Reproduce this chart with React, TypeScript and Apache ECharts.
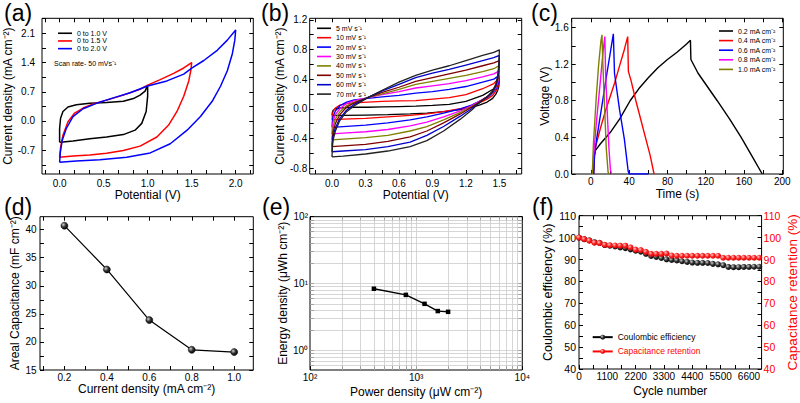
import React, { useEffect, useRef } from 'react';
import * as echarts from 'echarts';

const FONT = "'Liberation Sans', Arial, Helvetica, sans-serif";

// ---------------- (a) CV at different windows ----------------
const aNames = ['0 to 1.0 V', '0 to 1.5 V', '0 to 2.0 V'];
const aColors = ['#000000', '#ff0000', '#0000ff'];
const aLoop10 = [[0,-0.51],[0,-0.18],[0.011,0.065],[0.038,0.228],[0.095,0.334],[0.19,0.39],[0.343,0.423],[0.533,0.44],[0.724,0.472],[0.838,0.537],[0.914,0.619],[0.971,0.716],[1.0,0.86],
  [1.0,0.594],[0.983,0.228],[0.933,-0.057],[0.857,-0.22],[0.724,-0.326],[0.533,-0.383],[0.343,-0.423],[0.152,-0.48],[0.038,-0.505],[0,-0.51]];
const aLoop15 = [[0,-0.87],[0.011,-0.63],[0.038,-0.34],[0.095,-0.02],[0.171,0.19],[0.267,0.31],[0.381,0.41],[0.533,0.5],[0.724,0.62],[0.914,0.76],[1.0,0.86],[1.143,0.99],[1.295,1.14],[1.41,1.27],[1.5,1.4],
  [1.493,1.245],[1.467,0.96],[1.41,0.594],[1.333,0.228],[1.238,-0.098],[1.105,-0.383],[0.914,-0.602],[0.724,-0.708],[0.533,-0.773],[0.343,-0.814],[0.152,-0.838],[0,-0.87]];
const aLoop20 = [[0,-0.99],[0.008,-0.75],[0.03,-0.46],[0.076,-0.18],[0.152,0.106],[0.267,0.293],[0.419,0.423],[0.61,0.553],[0.8,0.675],[1.0,0.838],[1.219,0.96],[1.41,1.123],[1.505,1.27],[1.638,1.449],[1.79,1.693],[1.905,1.937],[2.0,2.18],
  [1.99,1.937],[1.962,1.612],[1.905,1.205],[1.829,0.838],[1.733,0.472],[1.6,0.106],[1.448,-0.22],[1.257,-0.545],[1.029,-0.765],[0.762,-0.871],[0.457,-0.928],[0.19,-0.96],[0,-0.99]];
const aLoops = [aLoop10, aLoop15, aLoop20];
const aXLabels = [0, 0.5, 1, 1.5, 2];
const aXTicks = [-0.1667, 0, 0.1667, 0.3333, 0.5, 0.6667, 0.8333, 1, 1.1667, 1.3333, 1.5, 1.6667, 1.8333, 2, 2.1667];
const aYLabels = [-0.7, 0, 0.7, 1.4, 2.1];
const aYTicks = [-1.05, -0.7, -0.35, 0, 0.35, 0.7, 1.05, 1.4, 1.75, 2.1, 2.45];

// ---------------- (b) CV at different scan rates ----------------
const bNames = ['5 mV s\u207B\u00B9', '10 mV s\u207B\u00B9', '20 mV s\u207B\u00B9', '30 mV s\u207B\u00B9', '40 mV s\u207B\u00B9', '50 mV s\u207B\u00B9', '60 mV s\u207B\u00B9', '70 mV s\u207B\u00B9'];
const bColors = ['#000000', '#ff0000', '#0000ff', '#ff00ff', '#808000', '#800000', '#0000cc', '#222222'];
const bLoop5 = [[0,-0.09],[0.003,-0.05],[0.01,-0.02],[0.03,0.0],[0.07,0.01],[0.13,0.015],[0.2,0.02],[0.32,0.02],[0.45,0.025],[0.6,0.03],[0.75,0.035],[0.9,0.045],[1.05,0.06],[1.2,0.1],[1.35,0.18],[1.45,0.27],[1.5,0.38],
  [1.495,0.3],[1.485,0.25],[1.47,0.2],[1.44,0.14],[1.39,0.09],[1.32,0.05],[1.25,0.02],[1.15,-0.01],[1.0,-0.04],[0.85,-0.06],[0.7,-0.07],[0.5,-0.08],[0.3,-0.085],[0.1,-0.09],[0,-0.09]];
const bLoop10 = [[0,-0.15],[0.003,-0.09],[0.01,-0.04],[0.03,0.01],[0.07,0.05],[0.13,0.07],[0.2,0.08],[0.32,0.09],[0.45,0.1],[0.6,0.105],[0.75,0.11],[0.9,0.13],[1.05,0.15],[1.2,0.19],[1.35,0.27],[1.45,0.34],[1.5,0.42],
  [1.495,0.34],[1.485,0.29],[1.47,0.24],[1.44,0.18],[1.39,0.13],[1.32,0.08],[1.25,0.04],[1.15,0.0],[1.0,-0.04],[0.85,-0.07],[0.7,-0.09],[0.5,-0.11],[0.3,-0.13],[0.1,-0.14],[0,-0.15]];
const bLoop20 = [[0,-0.25],[0.003,-0.17],[0.01,-0.1],[0.03,-0.03],[0.07,0.04],[0.13,0.09],[0.2,0.12],[0.32,0.14],[0.45,0.16],[0.6,0.18],[0.75,0.21],[0.9,0.23],[1.05,0.26],[1.2,0.3],[1.35,0.36],[1.45,0.4],[1.5,0.45],
  [1.495,0.37],[1.485,0.32],[1.47,0.27],[1.44,0.21],[1.39,0.15],[1.32,0.1],[1.25,0.05],[1.15,0.0],[1.0,-0.06],[0.85,-0.11],[0.7,-0.15],[0.5,-0.19],[0.3,-0.22],[0.1,-0.24],[0,-0.25]];
const bLoop30 = [[0,-0.34],[0.003,-0.25],[0.01,-0.17],[0.03,-0.08],[0.07,0.0],[0.13,0.07],[0.2,0.11],[0.32,0.15],[0.45,0.19],[0.6,0.23],[0.75,0.28],[0.9,0.31],[1.05,0.34],[1.2,0.38],[1.35,0.43],[1.45,0.47],[1.5,0.51],
  [1.495,0.42],[1.485,0.35],[1.47,0.29],[1.44,0.22],[1.39,0.16],[1.32,0.1],[1.25,0.04],[1.15,-0.03],[1.0,-0.11],[0.85,-0.18],[0.7,-0.23],[0.5,-0.28],[0.3,-0.31],[0.1,-0.33],[0,-0.34]];
const bLoop40 = [[0,-0.42],[0.003,-0.32],[0.01,-0.24],[0.03,-0.14],[0.07,-0.04],[0.13,0.04],[0.2,0.09],[0.32,0.15],[0.45,0.2],[0.6,0.26],[0.75,0.33],[0.9,0.37],[1.05,0.41],[1.2,0.45],[1.35,0.5],[1.45,0.54],[1.5,0.585],
  [1.495,0.46],[1.485,0.38],[1.47,0.3],[1.44,0.22],[1.39,0.16],[1.32,0.09],[1.25,0.03],[1.15,-0.05],[1.0,-0.15],[0.85,-0.24],[0.7,-0.3],[0.5,-0.36],[0.3,-0.39],[0.1,-0.41],[0,-0.42]];
const bLoop50 = [[0,-0.51],[0.003,-0.4],[0.01,-0.31],[0.03,-0.2],[0.07,-0.08],[0.13,0.02],[0.2,0.08],[0.32,0.15],[0.45,0.22],[0.6,0.29],[0.75,0.37],[0.9,0.42],[1.05,0.47],[1.2,0.52],[1.35,0.58],[1.45,0.62],[1.5,0.65],
  [1.495,0.5],[1.485,0.4],[1.47,0.31],[1.44,0.23],[1.39,0.16],[1.32,0.09],[1.25,0.02],[1.15,-0.07],[1.0,-0.19],[0.85,-0.3],[0.7,-0.38],[0.5,-0.44],[0.3,-0.48],[0.1,-0.5],[0,-0.51]];
const bLoop60 = [[0,-0.58],[0.003,-0.46],[0.01,-0.37],[0.03,-0.26],[0.07,-0.13],[0.13,-0.02],[0.2,0.06],[0.32,0.15],[0.45,0.24],[0.6,0.33],[0.75,0.42],[0.9,0.48],[1.05,0.53],[1.2,0.59],[1.35,0.65],[1.45,0.69],[1.5,0.72],
  [1.495,0.55],[1.485,0.42],[1.47,0.32],[1.44,0.23],[1.39,0.16],[1.32,0.08],[1.25,0.0],[1.15,-0.1],[1.0,-0.24],[0.85,-0.36],[0.7,-0.45],[0.5,-0.51],[0.3,-0.55],[0.1,-0.57],[0,-0.58]];
const bLoop70 = [[0,-0.65],[0.003,-0.52],[0.01,-0.42],[0.03,-0.3],[0.07,-0.16],[0.13,-0.04],[0.2,0.04],[0.32,0.15],[0.45,0.25],[0.6,0.36],[0.75,0.45],[0.9,0.52],[1.05,0.58],[1.2,0.65],[1.35,0.72],[1.45,0.76],[1.5,0.795],
  [1.495,0.6],[1.485,0.45],[1.47,0.34],[1.44,0.24],[1.39,0.16],[1.32,0.08],[1.25,-0.02],[1.15,-0.14],[1.0,-0.3],[0.85,-0.43],[0.7,-0.51],[0.5,-0.57],[0.3,-0.61],[0.1,-0.64],[0,-0.65]];
const bLoops = [bLoop5, bLoop10, bLoop20, bLoop30, bLoop40, bLoop50, bLoop60, bLoop70];
const bXLabels = [0, 0.3, 0.6, 0.9, 1.2, 1.5];
const bXTicks = [-0.15, 0, 0.15, 0.3, 0.45, 0.6, 0.75, 0.9, 1.05, 1.2, 1.35, 1.5, 1.65];
const bYLabels = [-0.8, -0.4, 0, 0.4, 0.8, 1.2];
const bYTicks = [-0.8, -0.6, -0.4, -0.2, 0, 0.2, 0.4, 0.6, 0.8, 1.0, 1.2];

// ---------------- (c) GCD ----------------
const cNames = ['0.2 mA cm\u207B\u00B2', '0.4 mA cm\u207B\u00B2', '0.6 mA cm\u207B\u00B2', '0.8 mA cm\u207B\u00B2', '1.0 mA cm\u207B\u00B2'];
const cColors = ['#000000', '#ff0000', '#0000ff', '#ff00ff', '#808000'];
const c02 = [[2.5,0],[3.5,0.2],[5,0.26],[10,0.33],[15,0.39],[20,0.45],[30,0.6],[41,0.8],[50,0.93],[60,1.05],[70,1.16],[80,1.25],[90,1.33],[100,1.42],[104,1.46],[104.5,1.25],[112,1.1],[120,0.98],[132,0.8],[145,0.6],[157,0.4],[168,0.2],[179,0]];
const c04 = [[3,0],[3.8,0.2],[5,0.3],[10,0.5],[15,0.68],[20,0.84],[25,1.0],[30,1.18],[35,1.36],[38.5,1.5],[39.2,1.12],[42,1.02],[47,0.8],[52,0.6],[57,0.4],[62,0.2],[66,0]];
const c06 = [[3,0],[3.8,0.2],[6.3,0.4],[11.6,0.75],[16.8,1.1],[21,1.37],[23.5,1.53],[24.7,1.1],[30,0.7],[35,0.38],[39,0.03],[40,0],[60,0]];
const c08 = [[1.5,0],[2.8,0.2],[6.3,0.62],[9.8,1.0],[12.6,1.32],[14.6,1.5],[15.4,1.1],[17,0.7],[18.8,0.3],[20.4,0.05],[21.5,0]];
const c10 = [[1.5,0],[2.8,0.35],[5.6,0.83],[8.1,1.19],[10.5,1.45],[11.6,1.52],[12.6,1.19],[14.4,0.72],[16.1,0.28],[18,0.02],[19,0]];
const cCurves = [c02, c04, c06, c08, c10];
const cXLabels = [0, 40, 80, 120, 160, 200];
const cXTicks = [-20, 0, 20, 40, 60, 80, 100, 120, 140, 160, 180, 200];
const cYLabels = [0, 0.4, 0.8, 1.2, 1.6];
const cYTicks = [0, 0.2, 0.4, 0.6, 0.8, 1.0, 1.2, 1.4, 1.6];

// ---------------- (d) areal capacitance ----------------
const dCurrent = [0.2, 0.4, 0.6, 0.8, 1.0];
const dCap = [40.7, 32.9, 23.9, 18.6, 18.2];
const dXLabels = [0.2, 0.4, 0.6, 0.8, 1.0];
const dXTicks = [0.1, 0.2, 0.3, 0.4, 0.5, 0.6, 0.7, 0.8, 0.9, 1.0];
const dYLabels = [15, 20, 25, 30, 35, 40];
const dYTicks = [15, 17.5, 20, 22.5, 25, 27.5, 30, 32.5, 35, 37.5, 40, 42.5];

// ---------------- (e) Ragone ----------------
const ePower = [400, 800, 1200, 1600, 2000];
const eEnergy = [8.4, 6.8, 5.0, 3.9, 3.8];
const eXLabels = [100, 1000, 10000];
const eXTicks = [100, 200, 300, 400, 500, 600, 700, 800, 900, 1000, 2000, 3000, 4000, 5000, 6000, 7000, 8000, 9000, 10000];
const eYLabels = [1, 10, 100];
const eYTicks = [0.6, 0.7, 0.8, 0.9, 1, 2, 3, 4, 5, 6, 7, 8, 9, 10, 20, 30, 40, 50, 60, 70, 80, 90, 100];
const eGridX = [200, 300, 400, 500, 600, 700, 800, 900, 1000, 2000, 3000, 4000, 5000, 6000, 7000, 8000, 9000];
const eGridY = [0.6, 0.7, 0.8, 0.9, 1, 2, 3, 4, 5, 6, 7, 8, 9, 10, 20, 30, 40, 50, 60, 70, 80, 90];

// ---------------- (f) cycling ----------------
const fCycles = [0,200,400,600,800,1000,1200,1400,1600,1800,2000,2200,2400,2600,2800,3000,3200,3400,3600,3800,4000,4200,4400,4600,4800,5000,5200,5400,5600,5800,6000,6200,6400,6600,6800,7000];
const fCoulombic = [100,99.3,98.8,97.9,97.6,96.6,96.3,96.0,95.5,95.2,94.6,94.0,93.6,92.6,91.6,91.2,90.7,90.1,89.8,89.6,89.2,88.9,88.6,88.5,88.5,88.4,88.0,87.8,87.4,86.6,86.5,86.5,86.6,86.6,86.7,86.7];
const fRetention = [100,99.3,98.6,97.7,97.5,96.7,96.5,96.4,96.3,96.3,95.5,94.5,94.3,93.5,92.6,92.6,92.6,92.7,91.8,91.7,91.7,91.7,91.7,91.7,91.7,91.7,91.7,91.7,90.8,90.8,90.8,90.8,90.8,90.8,90.8,90.8];
const fNames = ['Coulombic efficiency', 'Capacitance retention'];
const fXLabels = [0, 1100, 2200, 3300, 4400, 5500, 6600];
const fXTicks = [0, 550, 1100, 1650, 2200, 2750, 3300, 3850, 4400, 4950, 5500, 6050, 6600];
const fYLabels = [40, 50, 60, 70, 80, 90, 100, 110];
const fYTicks = [40, 45, 50, 55, 60, 65, 70, 75, 80, 85, 90, 95, 100, 105, 110];

// ---------------- helpers ----------------
const SUP: any = { '0': '\u2070', '1': '\u00B9', '2': '\u00B2', '3': '\u00B3', '4': '\u2074', '-': '\u207B' };
const powLabel = (v: number) => '10' + String(Math.round(Math.log10(v))).split('').map((c) => SUP[c]).join('');
const fx = (d: number) => (v: number) => Number(v).toFixed(d);

const tickCfg = (vals: number[]) => ({ show: true, inside: true, length: 4, customValues: vals, lineStyle: { color: '#000', width: 1 } });
const lblCfg = (vals: number[], fmt: any, margin: number, color = '#000', size = 10) => ({
  show: true, customValues: vals, formatter: fmt, margin, color, fontSize: size, fontFamily: FONT,
});
const nameCfg = (size = 12, color = '#000') => ({ fontSize: size, fontFamily: FONT, color });
const noLine = { show: false, onZero: false };

function axisPair(kind: 'x' | 'y', gi: number, type: string, min: number, max: number, labels: number[], ticks: number[], fmt: any,
  name: string, nameGap: number, margin: number, lblSize = 10, nameSize = 12) {
  const main: any = {
    type, gridIndex: gi, min, max, position: kind === 'x' ? 'bottom' : 'left',
    axisLine: noLine, splitLine: { show: false }, minorTick: { show: false },
    axisTick: tickCfg(ticks), axisLabel: lblCfg(labels, fmt, margin, '#000', lblSize),
    name, nameLocation: 'middle', nameGap, nameTextStyle: nameCfg(nameSize),
  };
  const mirror: any = {
    type, gridIndex: gi, min, max, position: kind === 'x' ? 'top' : 'right',
    axisLine: noLine, splitLine: { show: false },
    axisTick: tickCfg(ticks), axisLabel: { show: false },
  };
  if (type === 'log') { main.logBase = 10; mirror.logBase = 10; }
  return [main, mirror];
}

const lineSeries = (name: string, data: number[][], color: string, ai: number, width = 1.4) => ({
  type: 'line', name, data, xAxisIndex: ai, yAxisIndex: ai, symbol: 'none', showSymbol: false,
  lineStyle: { color, width }, itemStyle: { color }, silent: true, clip: true, animation: false,
});

const grids = [
  { left: 42, top: 18.3, width: 211.3, height: 155.7 },
  { left: 309.7, top: 18.3, width: 212, height: 155.7 },
  { left: 571.7, top: 18.3, width: 211.6, height: 155.7 },
  { left: 40, top: 216.7, width: 213.3, height: 153.3 },
  { left: 310, top: 216.7, width: 212.3, height: 153.3 },
  { left: 579, top: 215.7, width: 184.3, height: 153.3 },
].map((g) => ({ ...g, show: true, borderColor: '#000', borderWidth: 1, backgroundColor: 'transparent', containLabel: false }));

const xAxes = [
  ...axisPair('x', 0, 'value', -0.2, 2.2, aXLabels, aXTicks, fx(1), 'Potential (V)', 14, 4),
  ...axisPair('x', 1, 'value', -0.2, 1.7, bXLabels, bXTicks, fx(1), 'Potential (V)', 14, 4),
  ...axisPair('x', 2, 'value', -20, 201, cXLabels, cXTicks, fx(0), 'Time (s)', 14, 2),
  ...axisPair('x', 3, 'value', 0.085, 1.09, dXLabels, dXTicks, fx(1), 'Current density (mA cm\u207B\u00B2)', 12, 2),
  ...axisPair('x', 4, 'log', 100, 10000, eXLabels, eXTicks, powLabel, 'Power density (\u03BCW cm\u207B\u00B2)', 16, 2),
  ...axisPair('x', 5, 'value', 0, 7090, fXLabels, fXTicks, fx(0), 'Cycle number', 16, 2),
];

const yAxes = [
  ...axisPair('y', 0, 'value', -1.27, 2.46, aYLabels, aYTicks, fx(1), 'Current density (mA cm\u207B\u00B2)', 21, 7),
  ...axisPair('y', 1, 'value', -0.88, 1.22, bYLabels, bYTicks, fx(1), 'Current density (mA cm\u207B\u00B2)', 21, 2.5),
  ...axisPair('y', 2, 'value', 0, 1.7, cYLabels, cYTicks, fx(1), 'Voltage (V)', 20, 3),
  ...axisPair('y', 3, 'value', 15, 42.3, dYLabels, dYTicks, fx(0), 'Areal Capacitance (mF cm\u207B\u00B2)', 19, 3.5),
  ...axisPair('y', 4, 'log', 0.514, 100, eYLabels, eYTicks, powLabel, 'Energy density (\u03BCWh cm\u207B\u00B2)', 21, 2),
  ...axisPair('y', 5, 'value', 40, 110, fYLabels, fYTicks, fx(0), 'Coulombic efficiency (%)', 19, 3, 10.5, 12.5),
];
// right axis of (f): capacitance retention in red
yAxes[11] = {
  type: 'value', gridIndex: 5, min: 40, max: 110, position: 'right',
  axisLine: noLine, splitLine: { show: false },
  axisTick: tickCfg(fYTicks), axisLabel: lblCfg(fYLabels, fx(0), 2, '#ff0000', 10.5),
  name: 'Capacitance retention (%)', nameLocation: 'middle', nameGap: 21, nameTextStyle: nameCfg(13.5, '#ff0000'),
};

const blackBall = new echarts.graphic.RadialGradient(0.35, 0.35, 0.7, [
  { offset: 0, color: '#d0d0d0' }, { offset: 0.5, color: '#333333' }, { offset: 1, color: '#000000' },
]);
const redBall = new echarts.graphic.RadialGradient(0.35, 0.35, 0.7, [
  { offset: 0, color: '#ffc8c8' }, { offset: 0.5, color: '#ff2020' }, { offset: 1, color: '#d00000' },
]);

const series: any[] = [
  ...aLoops.map((d, i) => lineSeries(aNames[i], d, aColors[i], 0, 1.5)),
  ...bLoops.map((d, i) => lineSeries(bNames[i], d, bColors[i], 2, 1.3)),
  ...cCurves.map((d, i) => lineSeries(cNames[i], d, cColors[i], 4, 1.4)),
  {
    type: 'line', name: 'Areal capacitance', xAxisIndex: 6, yAxisIndex: 6,
    data: dCurrent.map((x, i) => [x, dCap[i]]),
    symbol: 'circle', symbolSize: 7, lineStyle: { color: '#000', width: 1.2 },
    itemStyle: { color: blackBall, borderColor: '#000', borderWidth: 0.5 }, silent: true, z: 5,
  },
  {
    type: 'line', name: 'Energy density', xAxisIndex: 8, yAxisIndex: 8,
    data: ePower.map((x, i) => [x, eEnergy[i]]),
    symbol: 'rect', symbolSize: 4.5, lineStyle: { color: '#000', width: 1.3 },
    itemStyle: { color: '#000' }, silent: true, z: 20,
    markLine: {
      silent: true, symbol: 'none', z: 1, animation: false,
      label: { show: false },
      lineStyle: { color: '#cccccc', width: 0.8, type: 'solid' },
      emphasis: { disabled: true },
      data: [...eGridX.map((v) => ({ xAxis: v })), ...eGridY.map((v) => ({ yAxis: v }))],
    },
  },
  {
    type: 'line', name: fNames[0], xAxisIndex: 10, yAxisIndex: 10,
    data: fCycles.map((x, i) => [x, fCoulombic[i]]),
    symbol: 'circle', symbolSize: 6, lineStyle: { color: '#000', width: 0.8 },
    itemStyle: { color: blackBall }, silent: true, z: 4,
  },
  {
    type: 'line', name: fNames[1], xAxisIndex: 10, yAxisIndex: 11,
    data: fCycles.map((x, i) => [x, fRetention[i]]),
    symbol: 'circle', symbolSize: 6, lineStyle: { color: '#ff0000', width: 0.8 },
    itemStyle: { color: redBall }, silent: true, z: 5,
  },
];

const legTxt = (lh: number, size = 7) => ({ fontSize: size, fontFamily: FONT, color: '#000', lineHeight: lh });
const legends: any[] = [
  { data: aNames, left: 58, top: 29.4, orient: 'vertical', icon: 'rect', itemWidth: 14, itemHeight: 1.6, itemGap: 0, padding: 0, selectedMode: false, textStyle: legTxt(7.7) },
  { data: bNames, left: 317, top: 23.6, orient: 'vertical', icon: 'rect', itemWidth: 14, itemHeight: 1.6, itemGap: 0, padding: 0, selectedMode: false, textStyle: legTxt(9.4) },
  { data: cNames, left: 719, top: 26.2, orient: 'vertical', icon: 'rect', itemWidth: 14, itemHeight: 1.6, itemGap: 0, padding: 0, selectedMode: false, textStyle: legTxt(9.6) },
  {
    data: [{ name: fNames[0], textStyle: { color: '#000' } }, { name: fNames[1], textStyle: { color: '#ff0000' } }],
    left: 591.7, top: 330, orient: 'vertical', itemWidth: 20, itemHeight: 6, itemGap: 0, padding: 0, selectedMode: false,
    textStyle: legTxt(14.3, 8.5),
  },
];

const panelLetter = (t: string, x: number, y: number) => ({
  type: 'text', left: x, top: y, silent: true, z: 100,
  style: { text: t, fontSize: 23, fontFamily: FONT, fill: '#000' },
});

const option: any = {
  animation: false,
  backgroundColor: '#ffffff',
  textStyle: { fontFamily: FONT },
  grid: grids,
  xAxis: xAxes,
  yAxis: yAxes,
  legend: legends,
  series,
  graphic: [
    panelLetter('(a)', 4, 1),
    panelLetter('(b)', 261, 1),
    panelLetter('(c)', 531, 1),
    panelLetter('(d)', 4, 195),
    panelLetter('(e)', 262, 195),
    panelLetter('(f)', 532, 195),
    {
      type: 'text', left: 54, top: 60, silent: true, z: 100,
      style: { text: 'Scan rate- 50 mVs\u207B\u00B9', fontSize: 7, fontFamily: FONT, fill: '#000' },
    },
  ],
};

export default function App() {
  const ref = useRef<HTMLDivElement>(null);
  useEffect(() => {
    const chart = echarts.init(ref.current as HTMLDivElement, null, { renderer: 'svg' });
    chart.setOption(option);
    return () => chart.dispose();
  }, []);
  return <div ref={ref} style={{ position: 'absolute', left: 0, top: 0, width: 800, height: 403, background: '#fff' }} />;
}
